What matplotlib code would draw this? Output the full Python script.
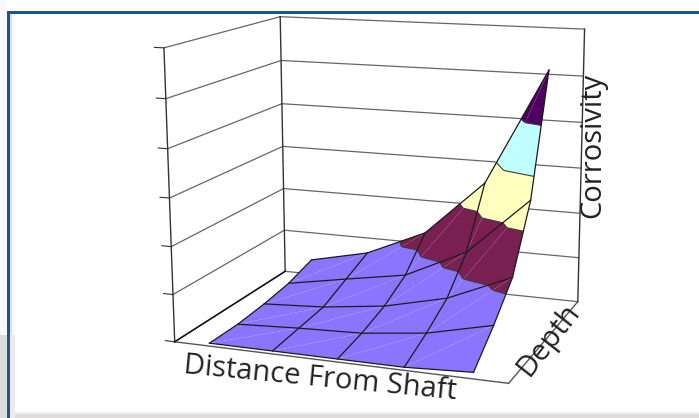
import numpy as np
import matplotlib
matplotlib.use('Agg')
import matplotlib.pyplot as plt
from matplotlib.patches import Rectangle
from mpl_toolkits.mplot3d.art3d import Poly3DCollection, Line3DCollection

plt.rcParams['font.family'] = ['Open Sans', 'DejaVu Sans']
W, H = 699, 418

# corrosivity, rows go from front to back
distance = [0.10, 0.299, 0.498, 0.696, 0.895]
depth = [0.03, 0.27, 0.51, 0.75, 0.99]
corrosivity = np.array([
    [0.0, 0.0, 0.0, 0.0, 0.07],
    [0.0, 0.07, 0.12, 0.28, 0.60],
    [0.06, 0.14, 0.31, 0.63, 1.22],
    [0.16, 0.40, 0.63, 1.28, 2.54],
    [0.36, 0.66, 1.26, 2.52, 5.10],
])
band_levels = [0, 1, 2, 3, 4, 9]
band_colors = ['#8b75ff', '#7a1f52', '#ffffbe', '#bfffff', '#4f0060']
z_ticks = [0, 1, 2, 3, 4, 5, 6]


def rect(x0, y0, x1, y1, color):
    # page furniture around the chart, given in pixels from the top left
    fig.add_artist(Rectangle((x0/W, 1-y1/H), (x1-x0)/W, (y1-y0)/H, transform=fig.transFigure,
                             facecolor=color, edgecolor='none', zorder=-5))


def clip(poly, lo, hi):
    out = poly
    for lev, sign in ((lo, 1), (hi, -1)):
        res = []
        for k in range(len(out)):
            a, b = out[k], out[(k+1) % len(out)]
            da, db = sign*(a[2]-lev), sign*(b[2]-lev)
            if da >= 0:
                res.append(a)
            if da*db < 0:
                res.append(a + (b-a)*da/(da-db))
        out = res
        if not out:
            break
    return out


def crossing(tri, lev):
    pts = []
    for k in range(3):
        a, b = tri[k], tri[(k+1) % 3]
        if (a[2]-lev)*(b[2]-lev) < 0:
            pts.append(a + (b-a)*(lev-a[2])/(b[2]-a[2]))
    return pts if len(pts) == 2 else None


fig = plt.figure(figsize=(W/100, H/100), dpi=100)

# grey page and blue frame
rect(0, 0, 7, 335, '#f9f9f9')
rect(0, 335, 7, 418, '#dcdcda')
rect(10, 13, 15, 335, '#fafafa')
rect(10, 335, 15, 418, '#ebebe9')
rect(7, 11, 699, 13.5, '#1c5596')
rect(7, 11, 10, 418, '#1c5596')
rect(10, 13.5, 11.5, 335, '#d5e1f0')
rect(15, 412, 699, 414, '#eeeeec')
rect(15, 414, 699, 418, '#dedddb')

ax = fig.add_axes([125.0/W, -23.0/H, 503.4/W, 503.4/H], projection='3d')
ax.set_xlim(0, 1)
ax.set_ylim(0, 1)
ax.set_zlim(0, 6)
ax.view_init(12.869, -69.248, 0.262)
ax.set_proj_type('persp', focal_length=0.563)
ax.set_box_aspect((1, 0.774, 0.853))
ax.set_axis_off()
ax.patch.set_alpha(0)
ax.computed_zorder = False

# each cell is two triangles, the seam between them shows up as a faint diagonal
triangles = []
for j in range(4):
    for i in range(4):
        p = [np.array([distance[i+a], depth[j+b], corrosivity[j+b, i+a]]) for a, b in ((0, 0), (1, 0), (1, 1), (0, 1))]
        triangles.append([p[0], p[1], p[2]])
        triangles.append([p[0], p[2], p[3]])

for lo, hi, col in zip(band_levels[:-1], band_levels[1:], band_colors):
    polys = [c for c in (clip(t, lo, hi) for t in triangles) if len(c) >= 3]
    ax.add_collection3d(Poly3DCollection(polys, facecolors=col, edgecolors='none', zorder=3))

segs = []
for lev in band_levels[1:-1]:
    for t in triangles:
        c = crossing(t, lev)
        if c:
            segs.append(c)
ax.add_collection3d(Line3DCollection(segs, colors='#3a3a3a', linewidths=0.8, zorder=4))

# walls and floor
for z in z_ticks:
    ax.plot([0, 1], [1, 1], [z, z], color='#666666', lw=0.9, zorder=1)
    ax.plot([0, 0], [0, 1], [z, z], color='#666666', lw=0.9, zorder=1)
    ax.plot([-0.03, 0], [0, 0], [z, z], color='#333333', lw=0.8, zorder=1)
for x, y in ((0, 0), (0, 1), (1, 1)):
    ax.plot([x, x], [y, y], [0, 6], color='#333333', lw=1.0, zorder=1)
ax.plot([0, 1], [0, 0], [0, 0], color='#555555', lw=1.0, zorder=1)
ax.plot([1, 1], [0, 1], [0, 0], color='#555555', lw=1.0, zorder=1)
ax.plot([0, 0], [0, 1], [0, 0], color='#111111', lw=1.1, zorder=1)

# mesh
for j in range(5):
    ax.plot(distance, [depth[j]]*5, corrosivity[j], color='#1a1a1a', lw=0.9, zorder=5)
for i in range(5):
    ax.plot([distance[i]]*5, depth, corrosivity[:, i], color='#1a1a1a', lw=0.9, zorder=5)

fig.text(320/W, 1-379/H, 'Distance From Shaft', fontsize=21, rotation=-5.5, ha='center', va='center', rotation_mode='anchor', color='#222222')
fig.text(548/W, 1-340/H, 'Depth', fontsize=21, rotation=52, ha='center', va='center', rotation_mode='anchor', color='#222222')
fig.text(593/W, 1-145/H, 'Corrosivity', fontsize=21, rotation=90, ha='center', va='center', rotation_mode='anchor', color='#222222')
fig.savefig('out.png', dpi=100)
